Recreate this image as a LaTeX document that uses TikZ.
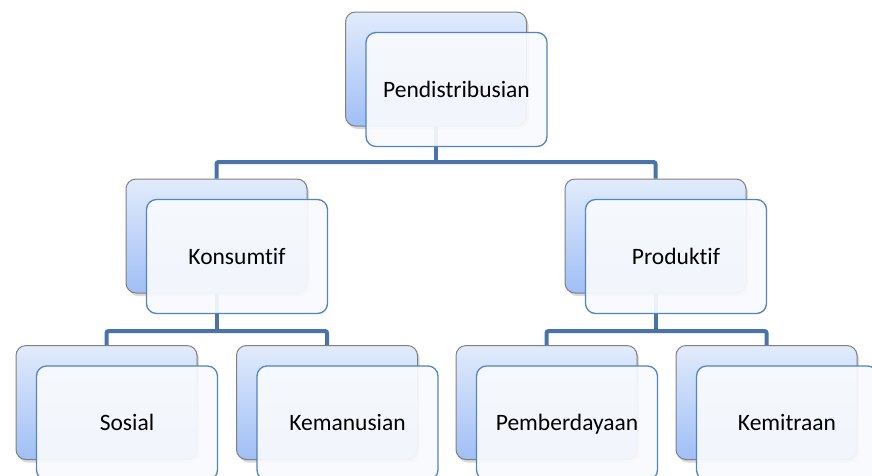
\documentclass[tikz,border=0pt]{standalone}
\usepackage{fontspec}
\setmainfont{Carlito}[Ligatures=NoCommon]
\usetikzlibrary{shadows}
\definecolor{connblue}{HTML}{4A74A8}
\definecolor{frontborder}{HTML}{5383C0}
\definecolor{backtop}{HTML}{E1EBFB}
\definecolor{backbot}{HTML}{A0BFF6}
\definecolor{backborder}{HTML}{7F7F7F}
\definecolor{frontfill}{HTML}{F8FAFD}
\tikzset{
  backbox/.style={draw=backborder, line width=1pt, rounded corners=10pt,
    minimum width=181pt, minimum height=114pt, inner sep=0pt,
    top color=backtop, bottom color=backbot,
    drop shadow={shadow xshift=2pt, shadow yshift=-3pt, opacity=0.3}},
  frontbox/.style={draw=frontborder, line width=1.3pt, rounded corners=10pt,
    minimum width=181pt, minimum height=114pt, inner sep=0pt,
    fill=frontfill, fill opacity=0.93, text opacity=1,
    text height=18.8pt, text depth=3.8pt,
    font=\fontsize{23.5}{27}\selectfont},
  conn/.style={draw=connblue, line width=4pt, rounded corners=2pt}
}
\begin{document}
\begin{tikzpicture}[x=1pt, y=-1pt]
\useasboundingbox (0,0) rectangle (872,475);
\clip (0,0) rectangle (872,475);
% back boxes
\node[backbox] (topB) at (436,69) {};
\node[backbox] (konB) at (216.5,236) {};
\node[backbox] (proB) at (655.5,236) {};
\node[backbox] (sosB) at (106.5,402.5) {};
\node[backbox] (kemB) at (327,402.5) {};
\node[backbox] (pemB) at (546.5,402.5) {};
\node[backbox] (mitB) at (766.5,402.5) {};
% bus levels
\coordinate (h1) at (0,162);
\coordinate (h2) at (0,331);
% connectors
\draw[conn] (topB.south) -- (topB.south |- h1);
\draw[conn] (konB.north) |- (topB.south |- h1) -| (proB.north);
\draw[conn] (konB.south) -- (konB.south |- h2);
\draw[conn] (sosB.north) |- (konB.south |- h2) -| (kemB.north);
\draw[conn] (proB.south) -- (proB.south |- h2);
\draw[conn] (pemB.north) |- (proB.south |- h2) -| (mitB.north);
% front boxes
\node[frontbox] (top) at (456.5,89.5) {Pendistribusian};
\node[frontbox] (kon) at (237,256.5) {Konsumtif};
\node[frontbox] (pro) at (676,256.5) {Produktif};
\node[frontbox] (sos) at (127,423) {Sosial};
\node[frontbox] (kem) at (347.5,423) {Kemanusian};
\node[frontbox] (pem) at (567,423) {Pemberdayaan};
\node[frontbox] (mit) at (787,423) {Kemitraan};
\end{tikzpicture}
\end{document}
